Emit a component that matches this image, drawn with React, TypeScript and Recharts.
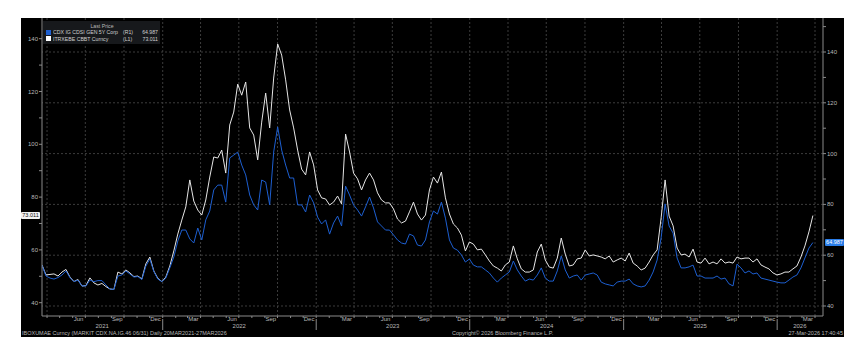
import React from 'react';
import { LineChart, Line, XAxis, YAxis, ReferenceLine } from 'recharts';

// Bloomberg GP: iTraxx Europe (L1) vs CDX IG (R1), 20MAR2021-27MAR2026
const START = Date.UTC(2021, 2, 20);
const END = Date.UTC(2026, 2, 27);
const DOMAIN_END = Date.UTC(2026, 3, 20);

const itraxxName = 'ITRXEBE CBBT Curncy';
const cdxName = 'CDX IG CDSI GEN 5Y Corp';

// ITRXEBE CBBT Curncy (about every 9.5 days)
const itraxx = [
  54.3, 50.5, 50.7, 50.9, 50.1, 51.6, 52.6, 49.7, 48.0, 48.8,
  46.3, 46.5, 49.4, 47.5, 46.7, 47.3, 46.1, 45.2, 45.0, 51.6,
  50.9, 52.4, 51.3, 49.9, 50.1, 49.0, 54.7, 57.3, 52.0, 49.2,
  48.0, 49.7, 53.9, 59.6, 66.0, 71.3, 76.3, 86.5, 78.5, 75.1,
  73.2, 78.9, 87.6, 95.2, 94.8, 97.8, 89.1, 107.3, 112.2, 122.8,
  118.6, 123.6, 106.2, 103.5, 94.1, 108.4, 119.4, 106.2, 125.1, 138.0,
  133.8, 124.4, 113.0, 106.2, 97.8, 90.6, 88.4, 97.1, 92.2, 82.7,
  79.7, 79.3, 77.0, 78.1, 80.4, 77.4, 103.9, 97.1, 89.1, 86.9,
  82.7, 86.5, 89.1, 86.5, 81.6, 78.9, 77.8, 77.8, 75.5, 71.7,
  70.2, 70.9, 74.4, 78.1, 73.6, 71.3, 73.2, 82.7, 87.6, 85.3,
  89.5, 79.7, 73.6, 69.8, 68.3, 65.6, 59.6, 63.0, 62.2, 60.0,
  60.3, 58.1, 55.8, 53.9, 53.1, 52.0, 54.3, 55.4, 61.5, 56.6,
  52.8, 51.6, 51.6, 52.4, 59.2, 62.2, 56.2, 53.5, 53.1, 56.9,
  64.5, 58.4, 53.9, 54.3, 56.6, 56.9, 60.0, 57.7, 58.1, 57.7,
  57.3, 56.6, 57.7, 55.4, 56.2, 56.9, 55.8, 58.8, 55.0, 53.9,
  52.4, 53.1, 55.4, 58.1, 60.0, 72.1, 86.5, 72.8, 69.1, 60.7,
  58.1, 58.4, 57.3, 60.3, 55.4, 55.0, 56.9, 54.7, 55.4, 54.7,
  56.6, 55.0, 55.4, 55.0, 57.3, 56.6, 56.9, 56.9, 55.4, 56.6,
  54.3, 53.5, 52.8, 51.3, 50.5, 50.9, 51.6, 51.6, 52.8, 53.9,
  57.3, 61.5, 66.8, 73.011,
];

// CDX IG CDSI GEN 5Y Corp, same dates
const cdx = [
  56.1, 51.8, 51.0, 50.6, 51.2, 52.2, 53.8, 51.2, 49.6, 50.2,
  47.9, 47.9, 50.2, 49.6, 50.0, 50.0, 48.3, 46.7, 46.5, 51.8,
  52.2, 53.8, 52.6, 51.4, 51.6, 50.4, 55.7, 58.5, 53.6, 50.6,
  49.6, 51.0, 55.0, 59.3, 65.6, 69.9, 69.9, 66.4, 64.8, 70.7,
  66.0, 73.9, 77.4, 85.7, 87.6, 87.6, 80.9, 98.3, 99.4, 100.6,
  95.5, 91.6, 83.7, 79.8, 77.8, 89.6, 88.8, 79.8, 100.6, 110.5,
  101.4, 95.5, 90.4, 90.4, 79.8, 79.8, 77.0, 83.7, 80.6, 75.0,
  72.3, 73.9, 68.3, 72.7, 75.4, 71.5, 87.2, 83.7, 79.8, 77.8,
  75.4, 79.0, 82.9, 78.6, 73.1, 71.5, 69.9, 69.9, 68.0, 66.0,
  64.8, 64.4, 68.3, 67.6, 64.0, 63.6, 66.0, 73.1, 77.4, 76.2,
  80.9, 74.6, 66.0, 62.8, 62.0, 60.1, 57.3, 58.5, 56.1, 55.4,
  55.4, 54.2, 53.0, 51.0, 49.4, 51.0, 52.2, 53.4, 57.7, 54.2,
  51.8, 49.8, 50.6, 50.2, 52.2, 55.0, 51.0, 49.8, 49.8, 53.8,
  59.7, 54.2, 51.0, 51.8, 52.2, 50.2, 52.2, 52.6, 53.0, 52.2,
  49.4, 48.7, 48.3, 47.9, 49.4, 49.8, 49.8, 50.6, 48.7, 47.9,
  47.5, 47.9, 50.2, 53.4, 58.1, 66.8, 80.2, 71.5, 68.7, 58.9,
  55.0, 55.0, 55.4, 56.1, 51.8, 51.8, 51.0, 51.0, 51.0, 51.8,
  50.6, 51.0, 48.7, 47.9, 56.5, 55.0, 53.0, 53.8, 52.6, 53.0,
  51.0, 50.6, 50.2, 49.8, 49.4, 49.1, 49.1, 50.2, 51.4, 52.2,
  55.0, 58.9, 62.8, 64.987,
];

const leftTicks = [40, 50, 60, 70, 80, 90, 100, 110, 120, 130, 140];
const rightTicks = [40, 50, 60, 70, 80, 90, 100, 110, 120, 130, 140, 150];
const gridValues = [40, 60, 80, 100, 120, 140];
const yearLabelDates = [
  Date.UTC(2021, 7, 10),
  Date.UTC(2022, 6, 2),
  Date.UTC(2023, 6, 2),
  Date.UTC(2024, 6, 2),
  Date.UTC(2025, 6, 2),
  Date.UTC(2026, 1, 24),
];

const MONTHS = ['Jan', 'Feb', 'Mar', 'Apr', 'May', 'Jun', 'Jul', 'Aug', 'Sep', 'Oct', 'Nov', 'Dec'];

const step = (END - START) / (itraxx.length - 1);
const data = itraxx.map((v, i) => ({ t: START + i * step, itraxx: v, cdx: cdx[i] }));

const monthStarts: number[] = [];
const monthMids: number[] = [];
const quarterStarts: number[] = [];
const yearStarts: number[] = [];
for (let y = 2021; y <= 2026; y++) {
  for (let m = 0; m < 12; m++) {
    const s = Date.UTC(y, m, 1);
    const mid = Date.UTC(y, m, 15);
    if (s > START && s < DOMAIN_END) {
      monthStarts.push(s);
      if (m % 3 === 0) quarterStarts.push(s);
      if (m === 0) yearStarts.push(s);
    }
    if (m % 3 === 2 && mid > START && mid < DOMAIN_END) monthMids.push(mid);
  }
}
const xTicks = [...monthStarts, ...monthMids, ...yearLabelDates].sort((a, b) => a - b);
const startSet = new Set(monthStarts);
const midSet = new Set(monthMids);
const yearSet = new Set(yearLabelDates);
const sepSet = new Set(yearStarts);

const BLUE = '#1d5fd1';
const WHITE = '#e6e6e6';
const AXIS = '#8a8a8a';
const TEXT = '#b8b8b8';
const FONT = '"Liberation Sans", Arial, sans-serif';
const DOMAIN: [number, number] = [START, DOMAIN_END];

const YTick = (props: any) => {
  const { x, y, payload, textAnchor } = props;
  if (payload.value % 20 !== 0) return <g />;
  return (
    <text x={x} y={y} dy="0.35em" textAnchor={textAnchor} fill={TEXT} fontSize={6} fontFamily={FONT}>
      {payload.value}
    </text>
  );
};

// month tick marks, year separators, month and year labels on one axis
const XTick = (props: any) => {
  const { x, y, payload } = props;
  const v = payload.value;
  if (startSet.has(v)) {
    return (
      <g>
        <line x1={x} x2={x} y1={y} y2={y + 2} stroke={AXIS} />
        {sepSet.has(v) && <line x1={x} x2={x} y1={y + 3} y2={y + 14} stroke={AXIS} />}
      </g>
    );
  }
  if (midSet.has(v)) {
    return (
      <text x={x} y={y + 1} dy="0.71em" textAnchor="middle" fill={TEXT} fontSize={6} fontFamily={FONT}>
        {MONTHS[new Date(v).getUTCMonth()]}
      </text>
    );
  }
  if (yearSet.has(v)) {
    return (
      <text x={x} y={y + 8} dy="0.71em" textAnchor="middle" fill={TEXT} fontSize={6} fontFamily={FONT}>
        {new Date(v).getUTCFullYear()}
      </text>
    );
  }
  return <g />;
};

const LastTag = (props: any) => {
  const { viewBox, value, side } = props;
  if (!viewBox) return null;
  const left = side === 'left';
  const x = left ? viewBox.x - 21 : viewBox.x + viewBox.width + 2;
  return (
    <g>
      <rect x={x} y={viewBox.y - 3.5} width={19} height={7} rx={1}
        fill={left ? '#f2f2f2' : '#2a7de8'} />
      <text x={x + 9.5} y={viewBox.y} dy="0.35em" textAnchor="middle" fontSize={5.5}
        fontFamily={FONT} fill={left ? '#111' : '#fff'}>
        {value.toFixed(3)}
      </text>
    </g>
  );
};

export default function App() {
  const lastItraxx = itraxx[itraxx.length - 1];
  const lastCdx = cdx[cdx.length - 1];
  const series = [
    { color: BLUE, name: cdxName, axis: '(R1)', value: lastCdx },
    { color: '#fff', name: itraxxName, axis: '(L1)', value: lastItraxx },
  ];
  return (
    <div style={{ position: 'absolute', left: 0, top: 0, width: 861, height: 352, background: '#fff', overflow: 'hidden' }}>
      <div style={{ position: 'absolute', left: 21, top: 18, width: 823, height: 319, background: '#000' }} />

      <div style={{ position: 'absolute', left: 0, top: 0 }}>
        <LineChart width={861} height={352} data={data} margin={{ top: 18, right: 17, bottom: 21, left: 21 }}>
          <XAxis xAxisId="m" dataKey="t" type="number" domain={DOMAIN} allowDataOverflow
            ticks={xTicks} interval={0} tickSize={0} tickMargin={0} height={15}
            axisLine={{ stroke: AXIS }} tickLine={false} tick={<XTick />} />

          <YAxis yAxisId="L" orientation="left" domain={[34.96, 147.84]} allowDataOverflow
            ticks={leftTicks} interval={0} width={21} tickSize={3} tickMargin={1}
            axisLine={{ stroke: AXIS }} tickLine={{ stroke: AXIS }} tick={<YTick />} />
          <YAxis yAxisId="R" orientation="right" domain={[36.06, 153.39]} allowDataOverflow
            ticks={rightTicks} interval={0} width={21} tickSize={3} tickMargin={1}
            axisLine={{ stroke: AXIS }} tickLine={{ stroke: AXIS }} tick={<YTick />} />

          {gridValues.map((v) => (
            <ReferenceLine key={'h' + v} xAxisId="m" yAxisId="R" y={v} stroke="#3c3c3c" strokeDasharray="2 2" />
          ))}
          {quarterStarts.map((t) => (
            <ReferenceLine key={'v' + t} xAxisId="m" yAxisId="R" x={t} stroke="#3c3c3c" strokeDasharray="2 2" />
          ))}

          <Line xAxisId="m" yAxisId="L" dataKey="itraxx" name={itraxxName} type="linear"
            stroke={WHITE} strokeWidth={1} dot={false} isAnimationActive={false} />
          <Line xAxisId="m" yAxisId="R" dataKey="cdx" name={cdxName} type="linear"
            stroke={BLUE} strokeWidth={1} dot={false} isAnimationActive={false} />

          <ReferenceLine xAxisId="m" yAxisId="L" y={lastItraxx} stroke="none"
            label={<LastTag side="left" value={lastItraxx} />} />
          <ReferenceLine xAxisId="m" yAxisId="R" y={lastCdx} stroke="none"
            label={<LastTag side="right" value={lastCdx} />} />
        </LineChart>
      </div>

      {/* legend box */}
      <div style={{ position: 'absolute', left: 43, top: 21, width: 112, padding: '2px 2px 2px 3px', background: '#17191c', fontFamily: FONT, fontSize: 5.2, lineHeight: '6.3px', color: '#d0d0d0', whiteSpace: 'nowrap' }}>
        <div style={{ textAlign: 'center', color: TEXT }}>Last Price</div>
        {series.map((s) => (
          <div key={s.name} style={{ display: 'flex', alignItems: 'center' }}>
            <span style={{ flex: 'none', width: 5, height: 5, background: s.color, marginRight: 2, display: 'inline-block' }} />
            <span style={{ flex: 'none', width: 70, overflow: 'hidden' }}>{s.name}</span>
            <span style={{ flex: 'none', width: 14 }}>{s.axis}</span>
            <span style={{ flex: 1, textAlign: 'right' }}>{s.value.toFixed(3)}</span>
          </div>
        ))}
      </div>

      {/* footer */}
      <div style={{ position: 'absolute', left: 22, top: 330, width: 821, height: 7, fontFamily: FONT, fontSize: 5.5, lineHeight: '7px', color: TEXT, whiteSpace: 'nowrap' }}>
        <span style={{ position: 'absolute', left: 0 }}>IBOXUMAE Curncy (MARKIT CDX.NA.IG.46 06/31) Daily 20MAR2021-27MAR2026</span>
        <span style={{ position: 'absolute', left: 430 }}>Copyright© 2026 Bloomberg Finance L.P.</span>
        <span style={{ position: 'absolute', right: 0 }}>27-Mar-2026 17:40:45</span>
      </div>
    </div>
  );
}
